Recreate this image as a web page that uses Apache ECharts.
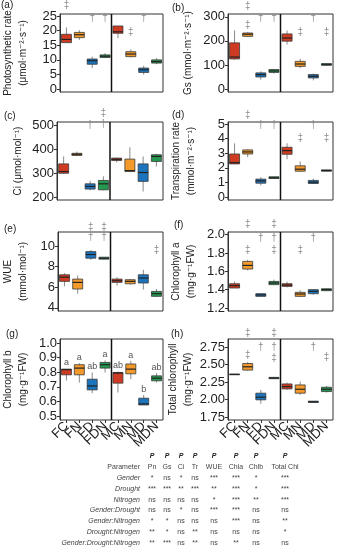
<!DOCTYPE html>
<html><head><meta charset="utf-8">
<script src="https://cdn.jsdelivr.net/npm/echarts@6/dist/echarts.min.js"></script>
<style>html,body{margin:0;padding:0;background:#fff}#c{width:339px;height:550px}</style>
</head><body><div id="c"></div>
<script>
// ---------- data ----------
const categories = ['FC','FN','FD','FDN','MC','MN','MD','MDN'];

// boxes: [min, Q1, median, Q3, max] per category
const pnBox = [[15.9,15.9,17.0,18.75,21.1],[16.8,17.6,18.6,19.4,20.2],[7.2,8.5,9.7,10.3,11.1],[10.6,10.8,11.25,11.7,12.3],
               [17.4,19.1,19.6,21.6,21.6],[10.9,11.1,12.0,12.8,13.6],[4.9,5.7,6.6,7.2,8.0],[8.5,8.9,9.4,10.0,10.6]];
const gsBox = [[122,125,133,192,244],[217,219,228,233,236],[39,50,60,67,74],[64,69,75,81,83],
               [185,199,212,229,243],[87,94,104,115,125],[36,46,53,60,64],[99,99,101,106,106]];
const ciBox = [[297,299,306,338,369],[371,373,378,382,389],[228,233,244,255,268],[228,230,255,269,286],
               [344,352,357,362,364],[306,306,310,358,407],[223,265,302,338,369],[327,348,369,376,380]];
const trBox = [[2.25,2.27,2.36,2.95,3.68],[2.73,2.95,3.09,3.23,3.27],[0.8,0.95,1.11,1.23,1.36],[1.26,1.27,1.32,1.39,1.40],
               [2.59,2.93,3.18,3.41,3.68],[1.73,1.77,1.91,2.14,2.43],[0.89,0.93,1.02,1.14,1.27],[1.77,1.77,1.82,1.86,1.86]];
const wueBox = [[6.09,6.57,6.98,7.21,7.37],[5.38,5.83,6.47,6.79,7.14],[8.65,8.81,9.17,9.45,9.6],[8.70,8.72,8.81,8.91,8.93],
                [6.15,6.47,6.63,6.79,6.98],[6.25,6.34,6.57,6.73,6.79],[5.77,6.41,6.89,7.21,7.69],[5.06,5.12,5.38,5.6,5.83]];
const chlaBox = [[1.418,1.418,1.444,1.465,1.49],[1.61,1.625,1.665,1.709,1.727],[1.327,1.327,1.342,1.356,1.356],[1.455,1.455,1.473,1.49,1.51],
                 [1.425,1.436,1.45,1.465,1.487],[1.32,1.327,1.353,1.371,1.393],[1.345,1.356,1.382,1.4,1.407],[1.389,1.389,1.4,1.41,1.41]];
const chlbBox = [[0.743,0.782,0.817,0.821,0.821],[0.729,0.782,0.828,0.851,0.862],[0.656,0.679,0.706,0.752,0.798],[0.798,0.828,0.851,0.867,0.881],
                 [0.661,0.725,0.794,0.798,0.805],[0.752,0.789,0.821,0.856,0.878],[0.576,0.576,0.583,0.622,0.644],[0.729,0.741,0.759,0.775,0.794]];
const totalBox = [[2.36,2.36,2.36,2.36,2.36],[2.41,2.42,2.467,2.514,2.537],[1.94,1.995,2.033,2.09,2.137],[2.295,2.297,2.306,2.316,2.318],
                  [2.137,2.151,2.184,2.222,2.24],[2.066,2.09,2.146,2.208,2.255],[1.956,1.958,1.967,1.976,1.978],[2.099,2.113,2.146,2.175,2.193]];

// tick labels
const pnTicks = [0,5,10,15,20,25];
const gsTicks = [0,100,200,300];
const ciTicks = [200,300,400,500];
const trTicks = [0,1,2,3,4,5];
const wueTicks = [4,6,8,10];
const chlaTicks = [1.2,1.4,1.6,1.8,2.0];
const chlbTicks = [0.5,0.6,0.7,0.8,0.9,1.0];
const totalTicks = [1.75,2.00,2.25,2.50,2.75];

// significance marks: [category, value, glyph]
const pnMarks = [['FC',28.8,'‡'],['FD',24.3,'†'],['FDN',24.3,'†'],['MN',19.5,'‡'],['MD',24.3,'†']];
const gsMarks = [['FN',346,'‡'],['FN',267,'‡'],['FD',296,'†'],['FDN',296,'†'],['MN',238,'‡'],['MD',296,'†'],['MDN',238,'‡']];
const ciMarks = [['FD',500,'†'],['FDN',550,'‡'],['FDN',504,'†']];
const trMarks = [['FN',5.6,'‡'],['FD',4.93,'†'],['FDN',4.93,'†'],['MN',4.04,'‡'],['MD',4.93,'†'],['MDN',4.04,'‡']];
const wueMarks = [['FD',11.84,'‡'],['FD',10.87,'†'],['FDN',11.84,'‡'],['FDN',10.87,'†'],['MDN',9.6,'‡']];
const chlaMarks = [['FN',2.12,'‡'],['FN',1.836,'‡'],['FD',1.967,'†'],['FDN',2.12,'‡'],['FDN',1.967,'†'],['FDN',1.836,'‡'],['MN',1.836,'‡'],['MD',1.967,'†']];
const chlbMarks = [['FC',0.869,'a'],['FN',0.897,'a'],['FD',0.839,'ab'],['FDN',0.92,'a'],['MC',0.844,'ab'],['MN',0.913,'a'],['MD',0.683,'b'],['MDN',0.833,'ab']];
const totalMarks = [['FN',2.95,'‡'],['FN',2.636,'‡'],['FD',2.75,'†'],['FDN',2.95,'‡'],['FDN',2.75,'†'],['FDN',2.59,'‡'],['MD',2.75,'†'],['MDN',2.607,'‡']];

// table
const tableCols = ['Pn','Gs','Ci','Tr','WUE','Chla','Chlb','Total Chl'];
const tableRows = ['Gender','Drought','Nitrogen','Gender:Drought','Gender:Nitrogen','Drought:Nitrogen','Gender:Drought:Nitrogen'];
const tableVals = [
  ['*','ns','*','ns','***','***','*','***'],
  ['***','***','**','***','**','***','*','***'],
  ['ns','ns','ns','ns','*','***','**','***'],
  ['ns','ns','*','ns','***','***','ns','ns'],
  ['*','*','ns','ns','ns','***','ns','**'],
  ['**','*','ns','**','ns','ns','ns','*'],
  ['**','***','ns','**','ns','**','ns','ns']
];

// ---------- styling / layout ----------
const boxColors = ['#cf3b22','#f39a2b','#1c74bd','#23994f'];
const FONT = 'Liberation Sans, Arial, DejaVu Sans, sans-serif';

const panels = [
  {letter:'(a)', box:pnBox, ticks:pnTicks, marks:pnMarks, range:[-1,25.7], dec:0, name:'Photosynthetic rate\n(μmol·m⁻²·s⁻¹)', grid:[57,14,106,78], gap:29, lp:[1,0]},
  {letter:'(b)', box:gsBox, ticks:gsTicks, marks:gsMarks, range:[-12.5,312], dec:0, name:'Gs (mmol·m⁻²·s⁻¹)', grid:[228,14,105,78], gap:32, lp:[172,3]},
  {letter:'(c)', box:ciBox, ticks:ciTicks, marks:ciMarks, range:[187.5,512.5], dec:0, name:'Ci (μmol·mol⁻¹)', grid:[57,122,106,78], gap:31, lp:[4,111]},
  {letter:'(d)', box:trBox, ticks:trTicks, marks:trMarks, range:[-0.2,5.14], dec:0, name:'Transpiration rate\n(mmol·m⁻²·s⁻¹)', grid:[228,122,105,78], gap:29, lp:[172,110]},
  {letter:'(e)', box:wueBox, ticks:wueTicks, marks:wueMarks, range:[3.7,11.35], dec:0, name:'WUE\n(mmol·mol⁻¹)', grid:[57,232,106,79], gap:27, lp:[4,224]},
  {letter:'(f)', box:chlaBox, ticks:chlaTicks, marks:chlaMarks, range:[1.167,2.03], dec:1, name:'Chlorophyll a\n(mg·g⁻¹FW)', grid:[228,232,105,79], gap:29, lp:[174,220]},
  {letter:'(g)', box:chlbBox, ticks:chlbTicks, marks:chlbMarks, range:[0.473,1.027], dec:1, name:'Chlorophyll b\n(mg·g⁻¹FW)', grid:[57,339,106,81], gap:29, lp:[6,329]},
  {letter:'(h)', box:totalBox, ticks:totalTicks, marks:totalMarks, range:[1.707,2.864], dec:2, name:'Total chlorophyll\n(mg·g⁻¹FW)', grid:[228,339,105,81], gap:29, lp:[171,329]}
];

const grids = [], xAxes = [], yAxes = [], series = [], graphics = [];

panels.forEach((p, i) => {
  const bottom = i >= 6;
  grids.push({left:p.grid[0], top:p.grid[1], width:p.grid[2], height:p.grid[3], show:true, borderColor:'#333', borderWidth:1, backgroundColor:'transparent'});
  xAxes.push({gridIndex:i, type:'category', data:categories, boundaryGap:true,
    axisLine:{show:false},
    axisTick:{show:bottom, length:3, alignWithLabel:true, lineStyle:{color:'#333'}},
    axisLabel:{show:bottom, rotate:45, fontSize:13, color:'#222', margin:4, fontFamily:FONT, interval:0},
    splitLine:{show:false}});
  yAxes.push({gridIndex:i, type:'value', min:p.range[0], max:p.range[1], splitLine:{show:false},
    axisLine:{show:true, lineStyle:{color:'#333'}},
    axisTick:{show:true, length:3, customValues:p.ticks, lineStyle:{color:'#333'}},
    axisLabel:{customValues:p.ticks, fontSize:13, color:'#222', margin:3, fontFamily:FONT, formatter:v => Number(v).toFixed(p.dec)},
    name:p.name, nameLocation:'middle', nameGap:p.gap, nameRotate:90,
    nameTextStyle:{fontSize:10, color:'#222', lineHeight:15, fontFamily:FONT}});

  // boxes
  series.push({type:'custom', xAxisIndex:i, yAxisIndex:i, silent:true,
    data:p.box.map((b, j) => [j].concat(b)),
    encode:{x:0, y:[1,2,3,4,5]},
    renderItem:(params, api) => {
      const j = api.value(0);
      const pMin = api.coord([j, api.value(1)]);
      const pQ1 = api.coord([j, api.value(2)]);
      const pMed = api.coord([j, api.value(3)]);
      const pQ3 = api.coord([j, api.value(4)]);
      const pMax = api.coord([j, api.value(5)]);
      const hw = 5, x = pMed[0];
      return {type:'group', children:[
        {type:'line', shape:{x1:x, y1:pMin[1], x2:x, y2:pMax[1]}, style:{stroke:'#8a8a8a', lineWidth:1}},
        {type:'rect', shape:{x:x-hw, y:pQ3[1], width:hw*2, height:Math.max(pQ1[1]-pQ3[1],0.5)},
          style:{fill:boxColors[j % 4], stroke:'#3a3a3a', lineWidth:0.8}},
        {type:'line', shape:{x1:x-hw, y1:pMed[1], x2:x+hw, y2:pMed[1]}, style:{stroke:'#222', lineWidth:1.2}}
      ]};
    }});

  // divider between female and male groups
  series.push({type:'custom', xAxisIndex:i, yAxisIndex:i, silent:true, data:[[3, p.range[0]]],
    renderItem:(params, api) => {
      const a = api.coord([3, p.range[0]]), b = api.coord([4, p.range[1]]);
      const x = (a[0] + b[0]) / 2;
      return {type:'line', shape:{x1:x, y1:a[1], x2:x, y2:b[1]}, style:{stroke:'#111', lineWidth:1.5}};
    }});

  // marks
  const isLetters = i === 6;
  series.push({type:'custom', xAxisIndex:i, yAxisIndex:i, silent:true, clip:false,
    data:p.marks.map(m => [categories.indexOf(m[0]), m[1]]),
    renderItem:(params, api) => {
      const pt = api.coord([api.value(0), api.value(1)]);
      const g = p.marks[params.dataIndex][2];
      return {type:'text', x:pt[0], y:pt[1], style:{text:g, fill:isLetters ? '#555' : '#8c8c8c',
        font:(isLetters ? '9px ' : '10px ') + FONT, align:'center', verticalAlign:'middle'}};
    }});

  graphics.push({type:'text', left:p.lp[0], top:p.lp[1], style:{text:p.letter, font:'10px ' + FONT, fill:'#222'}});
});

// table
const tblLabelRight = 140;
const tblColX = [152,167,181,195,214,236,256,285];
const tblHeaderY = 456, tblParamY = 467, tblRow0 = 478, tblRowStep = 10.8;
const tblFont = '7px ' + FONT, tblColor = '#444';
tableCols.forEach((c, k) => {
  graphics.push({type:'text', x:tblColX[k], y:tblHeaderY, style:{text:'P', font:'italic bold 7px ' + FONT, fill:'#222', align:'center', verticalAlign:'middle'}});
  graphics.push({type:'text', x:tblColX[k], y:tblParamY, style:{text:c, font:tblFont, fill:tblColor, align:'center', verticalAlign:'middle'}});
});
graphics.push({type:'text', x:tblLabelRight, y:tblParamY, style:{text:'Parameter', font:tblFont, fill:tblColor, align:'right', verticalAlign:'middle'}});
tableRows.forEach((r, ri) => {
  const y = tblRow0 + ri * tblRowStep;
  graphics.push({type:'text', x:tblLabelRight, y:y, style:{text:r, font:'italic ' + tblFont, fill:tblColor, align:'right', verticalAlign:'middle'}});
  tableVals[ri].forEach((v, k) => {
    graphics.push({type:'text', x:tblColX[k], y:y, style:{text:v, font:tblFont, fill:tblColor, align:'center', verticalAlign:'middle'}});
  });
});

const chart = echarts.init(document.getElementById('c'), null, {renderer:'canvas'});
chart.setOption({
  animation:false,
  backgroundColor:'#fff',
  grid:grids, xAxis:xAxes, yAxis:yAxes, series:series, graphic:graphics
});
</script></body></html>
